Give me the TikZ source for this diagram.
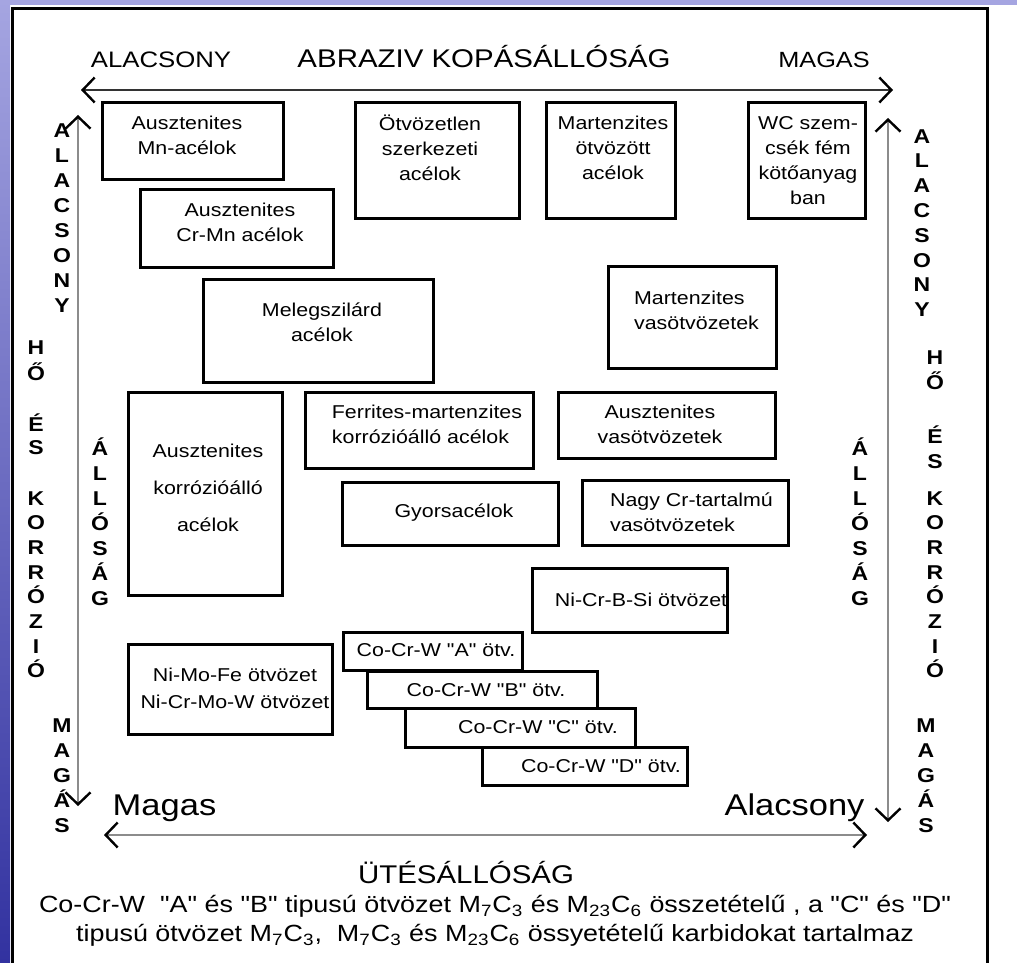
\documentclass[tikz,border=0pt]{standalone}
\usepackage{fontspec}
\setmainfont[FakeStretch=1.15, Ligatures=TeXOff]{Liberation Sans}
\usetikzlibrary{arrows.meta}

\definecolor{bgtop}{RGB}{165,165,225}
\definecolor{bgbottom}{RGB}{50,50,160}
\definecolor{axisgray}{RGB}{140,140,140}

\tikzset{
	every matbox/.style={
		draw,
		fill=white,
		line width=1.5pt,
		inner sep=0pt
	},
	box text/.style={
		inner sep=0pt,
		font=\fontsize{9.3}{12.5}\selectfont
	},
	vert letter/.style={
		inner sep=0pt,
		anchor=base,
		font=\fontsize{10}{12}\selectfont\bfseries
	},
	axis label/.style={
		inner sep=0pt,
		anchor=base
	},
	barb/.tip={Straight Barb[length=6pt, width=12.5pt, line width=1.2pt, color=black]},
	axis/.style={
		line width=1.3pt,
		draw=axisgray,
		barb-barb
	},
}

\begin{document}
\begin{tikzpicture}[x=0.5pt, y=-0.5pt]

\useasboundingbox (0,0) rectangle (1017,963);
\fill [white] (0,0) rectangle (1017,963);
\shade [top color=bgtop, bottom color=bgbottom] (0,0) rectangle (10,963);
\fill [bgtop] (0,0) rectangle (1017,5);
\draw [line width=1.5pt] (12,963) -- (12,9) -- (987,9) -- (987,963);

\coordinate (wear-lo) at (81,90);
\coordinate (wear-hi) at (893,90);
\coordinate (heat-lo-l) at (78,115);
\coordinate (heat-hi-l) at (78,806);
\coordinate (heat-lo-r) at (888,118);
\coordinate (heat-hi-r) at (888,822);
\coordinate (impact-hi) at (104,835);
\coordinate (impact-lo) at (867,835);

\draw [axis, draw=black!80] (wear-lo) -- (wear-hi);
\draw [axis] (heat-lo-l) -- (heat-hi-l);
\draw [axis] (heat-lo-r) -- (heat-hi-r);
\draw [axis] (impact-hi) -- (impact-lo);

\node [axis label, font=\fontsize{11.2}{13}\selectfont] (wear-lo-text) at (161,68) {ALACSONY};
\node [axis label, font=\fontsize{12.8}{15}\selectfont] (wear-title) at (484,68) {ABRAZIV KOPÁSÁLLÓSÁG};
\node [axis label, font=\fontsize{11}{13}\selectfont] (wear-hi-text) at (824,68) {MAGAS};
\node [axis label, font=\fontsize{15}{18}\selectfont] (impact-hi-text) at (164.5,815) {Magas};
\node [axis label, font=\fontsize{15}{18}\selectfont] (impact-lo-text) at (794.5,815) {Alacsony};
\node [axis label, font=\fontsize{12.8}{15}\selectfont] (impact-title) at (466,883) {ÜTÉSÁLLÓSÁG};

\foreach \l [count=\i from 0] in {A,L,A,C,S,O,N,Y} {
	\node [vert letter] (low-l-\i) at (62,138+24.9*\i) {\l};
	\node [vert letter] (low-r-\i) at (922,143+24.8*\i) {\l};
}

\foreach \l [count=\i from 0] in {M,A,G,Á,S} {
	\node [vert letter] (high-l-\i) at (62,732+25*\i) {\l};
	\node [vert letter] (high-r-\i) at (926,732+25*\i) {\l};
}

\foreach \l [count=\i from 0] in {Á,L,L,Ó,S,Á,G} {
	\node [vert letter] (res-l-\i) at (100,455+25*\i) {\l};
	\node [vert letter] (res-r-\i) at (860,455+25*\i) {\l};
}

\foreach \l/\yl/\yr [count=\i] in {H/354/364, Ő/380/389, É/431/443, S/454/468,
		K/505/505, O/529.7/529.7, R/554.4/554.4, R/579.1/579.1,
		Ó/603.8/603.8, Z/628.5/628.5, I/653.2/653.2, Ó/677.9/677.9} {
	\node [vert letter] (heat-l-\i) at (36,\yl) {\l};
	\node [vert letter] (heat-r-\i) at (935,\yr) {\l};
}

\foreach \n/\x/\y/\w/\h in {
		mn/192.5/141/181/76, crmn/236.5/228/193/78, otvlen/437/160.5/164/115,
		martotv/610.5/160.5/129/115, wc/806.5/160.5/117/115, meleg/318/330.5/230/103,
		martvas/692/317/168/102, akorr/205/493.5/154/203, ferr/419/430/228/76,
		avas/666.5/425/217/66, gyors/450/513.5/216/63, nagycr/685/512.5/206/65,
		nicrb/629.5/600/195/64, nimo/230/689/204/90, cocra/432.5/651/179/38,
		cocrb/482/689.5/230/37, cocrc/520/727.5/230/39, cocrd/584.5/766/205/38}
	\node [every matbox, minimum width=\w*0.5pt, minimum height=\h*0.5pt] (\n) at (\x,\y) {};

\foreach \n/\x/\y/\a/\t in {
		mn/187/135/center/{Ausztenites\\Mn-acélok},
		crmn/240/222/center/{Ausztenites\\Cr-Mn acélok},
		otvlen/430/148/center/{Ötvözetlen\\szerkezeti\\acélok},
		martotv/613/148/center/{Martenzites\\ötvözött\\acélok},
		wc/808/160.5/center/{WC szem-\\csék fém\\kötőanyag\\ban},
		meleg/322/322/center/{Melegszilárd\\acélok},
		martvas/696.5/310.5/left/{Martenzites\\vasötvözetek},
		akorr/208/488/center/{Ausztenites\\[6pt]korrózióálló\\[6pt]acélok},
		ferr/427/424/left/{Ferrites-martenzites\\korrózióálló acélok},
		avas/660/424/center/{Ausztenites\\vasötvözetek},
		gyors/454/513/center/{Gyorsacélok},
		nagycr/691.5/512.5/left/{Nagy Cr-tartalmú\\vasötvözetek},
		nicrb/641/600/center/{Ni-Cr-B-Si ötvözet},
		nimo/235/688/center/{Ni-Mo-Fe ötvözet\\[1pt]Ni-Cr-Mo-W ötvözet},
		cocra/436/650/center/{Co-Cr-W "A" ötv.},
		cocrb/486/690/center/{Co-Cr-W "B" ötv.},
		cocrc/538/727/center/{Co-Cr-W "C" ötv.},
		cocrd/601/766/center/{Co-Cr-W "D" ötv.}}
	\node [box text, align=\a] (\n-text) at (\x,\y) {\t};

\node [inner sep=0pt, align=center, font=\fontsize{11.7}{14.5}\selectfont] (note) at (495,921)
	{Co-Cr-W\ \ "A" és "B" tipusú ötvözet M\textsubscript{7}C\textsubscript{3} és M\textsubscript{23}C\textsubscript{6} összetételű , a "C" és "D"\\
	tipusú ötvözet M\textsubscript{7}C\textsubscript{3},\ \ M\textsubscript{7}C\textsubscript{3} és M\textsubscript{23}C\textsubscript{6} össyetételű karbidokat tartalmaz};

\end{tikzpicture}
\end{document}
